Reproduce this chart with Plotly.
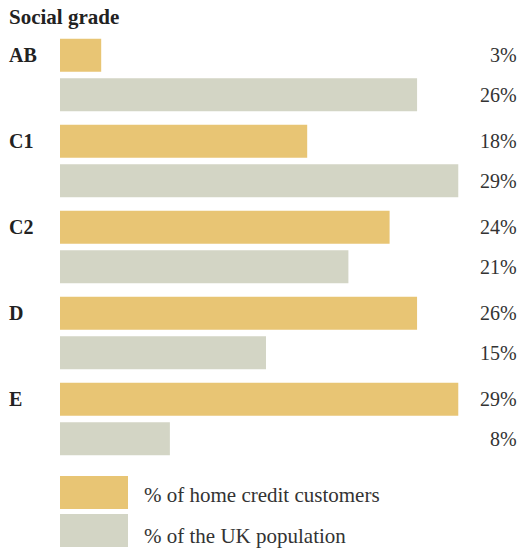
import plotly.graph_objects as go

grades = ["AB", "C1", "C2", "D", "E"]
customers = [3, 18, 24, 26, 29]
population = [26, 29, 21, 15, 8]
series_names = ["% of home credit customers", "% of the UK population"]
colors = ["#E8C574", "#D3D5C5"]
title_text = "Social grade"

FONT = "Liberation Serif"
TXT = "#333333"

W, H = 520, 548
ML, MR, MT, MB = 60, 48, 32, 86
PW, PH = W - ML - MR, H - MT - MB


def px(xp):
    return (xp - ML) / PW


def py(yp):
    return (H - MB - yp) / PH


fig = go.Figure()
for vals, name, col in zip([customers, population], series_names, colors):
    fig.add_trace(go.Bar(
        y=grades, x=vals, orientation="h", name=name,
        marker=dict(color=col, line=dict(width=0)),
        hoverinfo="x+y", showlegend=False,
    ))

annotations = []
annotations.append(dict(text="<b>" + title_text + "</b>", xref="paper", yref="paper",
                        x=px(7), y=py(17), xanchor="left", yanchor="middle",
                        showarrow=False, font=dict(family=FONT, size=21, color="#222")))
for g, c, p in zip(grades, customers, population):
    annotations.append(dict(text="<b>" + g + "</b>", xref="paper", yref="y",
                            x=px(7), y=g, xanchor="left", yanchor="middle", yshift=19.75,
                            showarrow=False, font=dict(family=FONT, size=20, color="#222")))
    for v, sh in ((c, 19.75), (p, -19.75)):
        annotations.append(dict(text=f"{v}%", xref="paper", yref="y",
                                x=px(519), y=g, xanchor="right", yanchor="middle",
                                yshift=sh, showarrow=False,
                                font=dict(family=FONT, size=20, color=TXT)))

shapes = []
text_centers = [495, 536]
for i, (name, col) in enumerate(zip(series_names, colors)):
    top = 476 + i * 38
    shapes.append(dict(type="rect", xref="paper", yref="paper",
                       x0=px(60), x1=px(128), y0=py(top + 33), y1=py(top),
                       fillcolor=col, line=dict(width=0)))
    annotations.append(dict(text=name, xref="paper", yref="paper",
                            x=px(142), y=py(text_centers[i]), xanchor="left", yanchor="middle",
                            showarrow=False, font=dict(family=FONT, size=21, color=TXT)))

fig.update_layout(
    width=W, height=H,
    margin=dict(l=ML, r=MR, t=MT, b=MB),
    plot_bgcolor="white", paper_bgcolor="white",
    barmode="group", bargap=7/86, bargroupgap=6.5/39.5,
    xaxis=dict(range=[0, 30], visible=False, fixedrange=True),
    yaxis=dict(autorange="reversed", visible=False, fixedrange=True),
    annotations=annotations, shapes=shapes,
    font=dict(family=FONT, color=TXT),
)
fig.write_html("out.html", config={"displayModeBar": False},
               post_script="document.body.style.margin='0';document.body.style.overflow='hidden';")
